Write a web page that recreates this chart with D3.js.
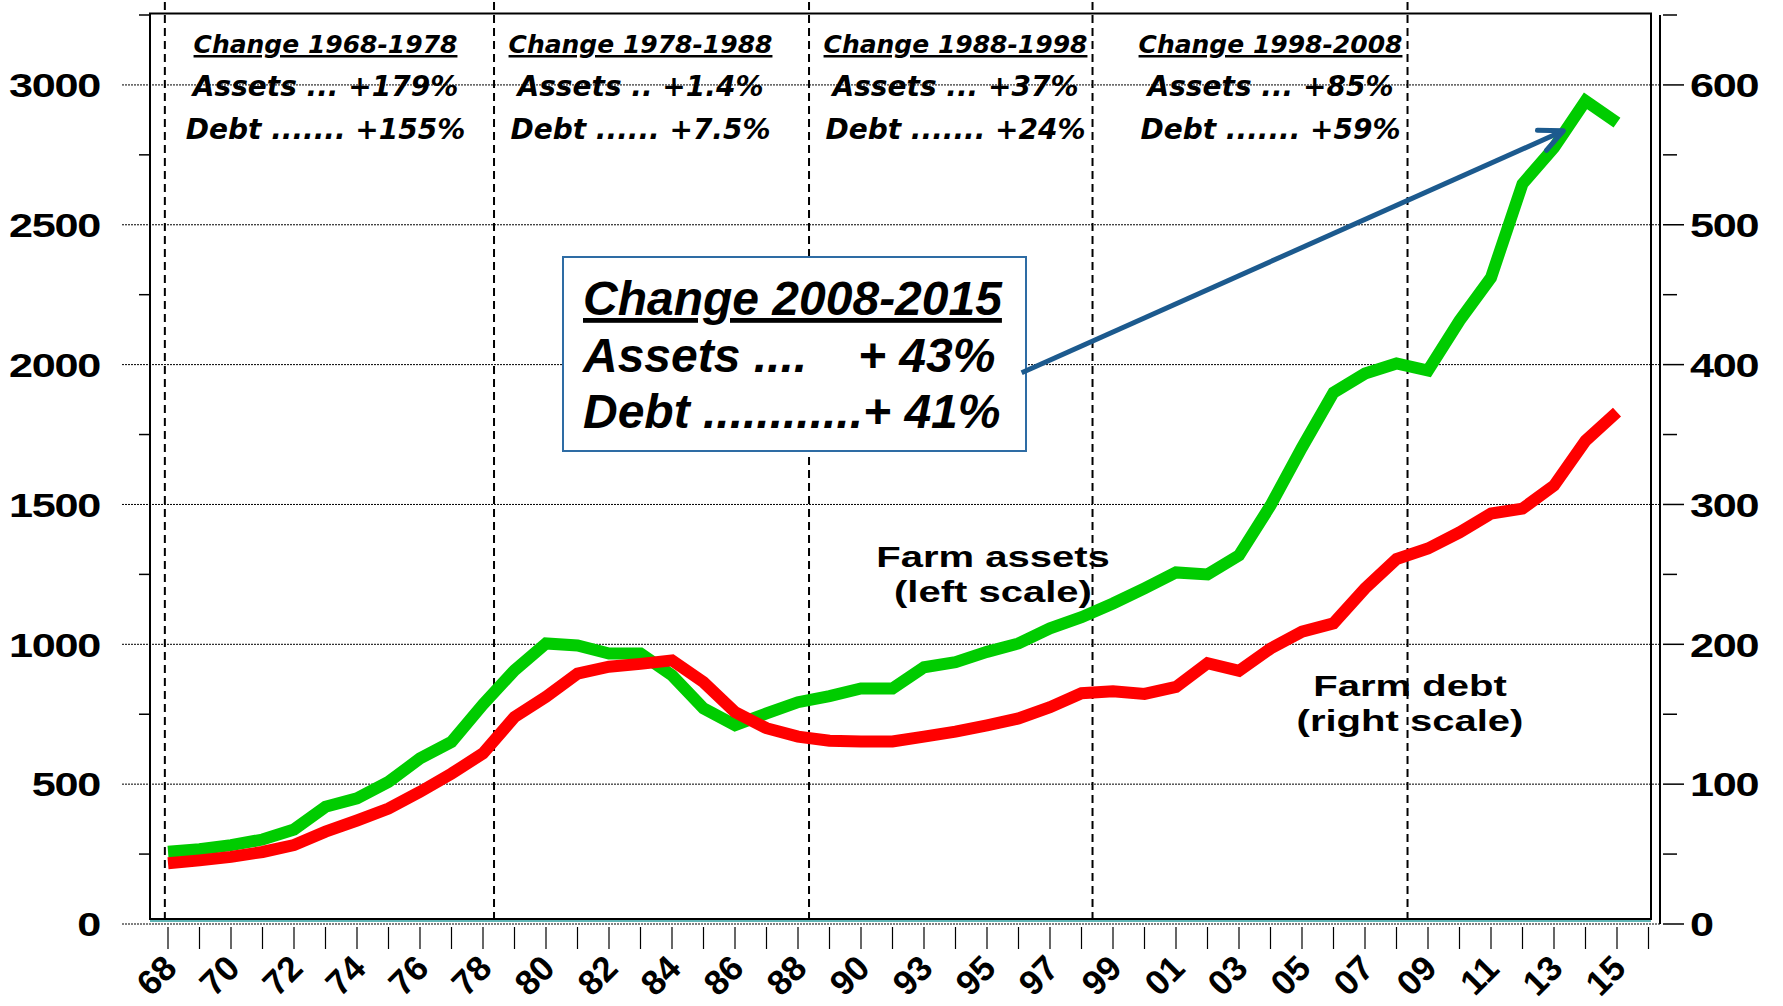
<!DOCTYPE html>
<html>
<head>
<meta charset="utf-8">
<script src="https://cdn.jsdelivr.net/npm/d3@7"></script>
<style>
  body { margin: 0; background: #fff; }
  svg { display: block; }
</style>
</head>
<body>
<div id="chart"></div>
<script>
// years on the category axis (1991 is not in the series)
var years = [1968, 1969, 1970, 1971, 1972, 1973, 1974, 1975, 1976, 1977, 1978, 1979, 1980,
  1981, 1982, 1983, 1984, 1985, 1986, 1987, 1988, 1989, 1990, 1992, 1993, 1994, 1995,
  1996, 1997, 1998, 1999, 2000, 2001, 2002, 2003, 2004, 2005, 2006, 2007, 2008, 2009,
  2010, 2011, 2012, 2013, 2014, 2015];

// farm assets, left scale
var assets = [258, 267, 282, 302, 338, 419, 449, 508, 592, 651, 785, 907, 1003,
  996, 967, 967, 889, 771, 711, 753, 793, 815, 842, 842, 918, 936, 973,
  1003, 1057, 1097, 1146, 1200, 1257, 1250, 1318, 1496, 1704, 1900, 1968, 2004, 1979,
  2157, 2311, 2646, 2776, 2943, 2865];

// farm debt, right scale
var debt = [43.5, 45.5, 48, 51.5, 56.5, 66, 74, 82.5, 94.5, 107.5, 122, 148, 162.5,
  179, 184, 186, 188.5, 173, 151.5, 140, 134, 131, 130.5, 130.5, 134, 137.5, 142,
  147, 155, 165, 166.5, 164.5, 169.5, 186.5, 181, 197, 209, 215, 240, 261, 268.5,
  280, 293.5, 297, 313.5, 345.5, 366];

var leftTicks = [0, 500, 1000, 1500, 2000, 2500, 3000];
var rightTicks = [0, 100, 200, 300, 400, 500, 600];
var dividers = [1968, 1978, 1988, 1998, 2008];

var periodTitles = ["Change 1968-1978", "Change 1978-1988", "Change 1988-1998", "Change 1998-2008"];
var periodAssets = ["Assets ... +179%", "Assets .. +1.4%", "Assets ... +37%", "Assets ... +85%"];
var periodDebt = ["Debt ....... +155%", "Debt ...... +7.5%", "Debt ....... +24%", "Debt ....... +59%"];

var boxTitle = "Change 2008-2015";
var boxAssets = ["Assets ....", "+ 43%"];
var boxDebt = "Debt ............+ 41%";

var width = 1783, height = 1006;
var frame = { left: 150, right: 1651, top: 13.5, bottom: 919 };

var svg = d3.select("#chart").append("svg")
  .attr("width", width)
  .attr("height", height);

var x = d3.scalePoint()
  .domain(years)
  .range([168, 1617]);

var yL = d3.scaleLinear().domain([0, 3250]).range([924, 15]);
var yR = d3.scaleLinear().domain([0, 650]).range([924, 15]);

function xAt(k) { return x.range()[0] + k * x.step(); }

// dotted gridlines (they also act as the major left ticks)
svg.selectAll(".grid")
  .data(leftTicks)
  .enter().append("line")
  .attr("x1", 122).attr("x2", 1660)
  .attr("y1", function (d) { return yL(d); })
  .attr("y2", function (d) { return yL(d); })
  .style("stroke", "#000")
  .style("stroke-width", 1)
  .style("stroke-dasharray", "2,1");

// minor left ticks
svg.selectAll(".ltick")
  .data(d3.range(250, 3251, 500))
  .enter().append("line")
  .attr("x1", 139).attr("x2", frame.left)
  .attr("y1", function (d) { return yL(d); })
  .attr("y2", function (d) { return yL(d); })
  .style("stroke", "#000")
  .style("stroke-width", 1.5);

// decade dividers
var dividerX = function (d, i) { return x(d) + (i ? 0.35 : -0.1) * x.step(); };
svg.selectAll(".divider")
  .data(dividers)
  .enter().append("line")
  .attr("x1", dividerX).attr("x2", dividerX)
  .attr("y1", 2).attr("y2", frame.bottom)
  .style("stroke", "#000")
  .style("stroke-width", 2)
  .style("stroke-dasharray", "8,5");

// plot frame
svg.append("rect")
  .attr("x", frame.left).attr("y", frame.top)
  .attr("width", frame.right - frame.left)
  .attr("height", frame.bottom - frame.top)
  .style("fill", "none")
  .style("stroke", "#000")
  .style("stroke-width", 2);

svg.append("line")  // teal rule under the category axis
  .attr("x1", frame.left).attr("x2", frame.right)
  .attr("y1", frame.bottom + 2).attr("y2", frame.bottom + 2)
  .style("stroke", "#2a9d9d")
  .style("stroke-width", 1.5);

// left labels
svg.selectAll(".llab")
  .data(leftTicks)
  .enter().append("text")
  .attr("transform", function (d) { return "translate(100," + yL(d) + ") scale(1.27,1)"; })
  .attr("dy", "0.36em")
  .style("text-anchor", "end")
  .style("font", "bold 34px 'Liberation Sans', Arial, sans-serif")
  .style("letter-spacing", "-1px")
  .text(function (d) { return d; });

// right axis
svg.append("line")
  .attr("x1", 1660).attr("x2", 1660)
  .attr("y1", 15).attr("y2", 924)
  .style("stroke", "#000")
  .style("stroke-width", 2);

svg.selectAll(".rtick")
  .data(d3.range(0, 651, 50))
  .enter().append("line")
  .attr("x1", 1663)
  .attr("x2", function (d) { return d % 100 === 0 ? 1684 : 1677; })
  .attr("y1", function (d) { return yR(d); })
  .attr("y2", function (d) { return yR(d); })
  .style("stroke", "#000")
  .style("stroke-width", 1.5);

svg.selectAll(".rlab")
  .data(rightTicks)
  .enter().append("text")
  .attr("transform", function (d) { return "translate(1690," + yR(d) + ") scale(1.27,1)"; })
  .attr("dy", "0.36em")
  .style("text-anchor", "start")
  .style("font", "bold 34px 'Liberation Sans', Arial, sans-serif")
  .style("letter-spacing", "-1px")
  .text(function (d) { return d; });

// category ticks, one per year plus the closing one
var tickX = years.map(function (d) { return x(d); }).concat([xAt(years.length)]);
svg.selectAll(".xtick")
  .data(tickX)
  .enter().append("line")
  .attr("x1", function (d) { return d; }).attr("x2", function (d) { return d; })
  .attr("y1", 927).attr("y2", 949)
  .style("stroke", "#000")
  .style("stroke-width", 1.2);

svg.selectAll(".xlab")
  .data(years.filter(function (d, i) { return i % 2 === 0; }))
  .enter().append("text")
  .attr("transform", function (d) { return "translate(" + (x(d) - 12) + ",975) rotate(-45)"; })
  .attr("dy", "0.36em")
  .style("text-anchor", "middle")
  .style("font", "bold 35px 'Liberation Sans', Arial, sans-serif")
  .text(function (d) { return d3.format("02")(d % 100); });

// period notes across the top, centred on the middle year of each decade
var notes = svg.selectAll(".note")
  .data(periodTitles)
  .enter().append("g")
  .attr("transform", function (d, i) { return "translate(" + xAt(5 + 10 * i) + ",0)"; })
  .style("font-family", "'DejaVu Sans', Verdana, sans-serif")
  .style("font-style", "italic")
  .style("font-weight", "bold")
  .style("text-anchor", "middle")
  .style("white-space", "pre");

notes.append("text").attr("y", 53)
  .style("font-size", "25px")
  .style("text-decoration", "underline")
  .text(function (d) { return d; });
notes.append("text").attr("y", 96)
  .style("font-size", "28px")
  .text(function (d, i) { return periodAssets[i]; });
notes.append("text").attr("y", 139)
  .style("font-size", "28px")
  .text(function (d, i) { return periodDebt[i]; });

// the two series
var assetLine = d3.line()
  .x(function (d, i) { return x(years[i]); })
  .y(function (d) { return yL(d); });
var debtLine = d3.line()
  .x(function (d, i) { return x(years[i]); })
  .y(function (d) { return yR(d); });

svg.append("path")
  .datum(assets)
  .attr("d", assetLine)
  .style("fill", "none")
  .style("stroke", "#00cc00")
  .style("stroke-width", 12)
  .style("stroke-linejoin", "miter")
  .style("stroke-miterlimit", 2);

svg.append("path")
  .datum(debt)
  .attr("d", debtLine)
  .style("fill", "none")
  .style("stroke", "#ff0000")
  .style("stroke-width", 12)
  .style("stroke-linejoin", "miter")
  .style("stroke-miterlimit", 2);

// series labels
var seriesFont = "bold 29px 'Liberation Sans', Arial, sans-serif";
[["Farm assets", "(left scale)", 993, 567], ["Farm debt", "(right scale)", 1410, 696]].forEach(function (s) {
  [s[0], s[1]].forEach(function (t, j) {
    svg.append("text")
      .attr("transform", "translate(" + s[2] + "," + (s[3] + j * 35) + ") scale(1.38,1)")
      .style("text-anchor", "middle")
      .style("font", seriesFont)
      .text(t);
  });
});

// 2008-2015 box
svg.append("rect")
  .attr("x", 563).attr("y", 257)
  .attr("width", 463).attr("height", 194)
  .style("fill", "#fff")
  .style("stroke", "#2e6ca4")
  .style("stroke-width", 2);

var boxFont = "italic bold 48px 'Liberation Sans', Arial, sans-serif";
svg.append("text").attr("x", 583).attr("y", 315)
  .style("font", boxFont).style("text-decoration", "underline")
  .text(boxTitle);
svg.append("text").attr("x", 583).attr("y", 372)
  .style("font", boxFont).text(boxAssets[0]);
svg.append("text").attr("x", 858).attr("y", 372)
  .style("font", boxFont).text(boxAssets[1]);
svg.append("text").attr("x", 583).attr("y", 428)
  .style("font", boxFont).text(boxDebt);

// arrow from the box to the 2013/14 assets
var from = [xAt(27.1), yL(1971)], to = [xAt(44.3), yL(2836)];
var ang = Math.atan2(from[1] - to[1], from[0] - to[0]);
var arm = 26, spread = 25 * Math.PI / 180;
svg.append("line")
  .attr("x1", from[0]).attr("y1", from[1])
  .attr("x2", to[0]).attr("y2", to[1])
  .style("stroke", "#1c5a8e")
  .style("stroke-width", 5);
svg.append("path")
  .attr("d", "M" + (to[0] + arm * Math.cos(ang - spread)) + "," + (to[1] + arm * Math.sin(ang - spread)) +
    "L" + to[0] + "," + to[1] +
    "L" + (to[0] + arm * Math.cos(ang + spread)) + "," + (to[1] + arm * Math.sin(ang + spread)))
  .style("fill", "none")
  .style("stroke", "#1c5a8e")
  .style("stroke-width", 5)
  .style("stroke-linecap", "round")
  .style("stroke-linejoin", "round");
</script>
</body>
</html>
